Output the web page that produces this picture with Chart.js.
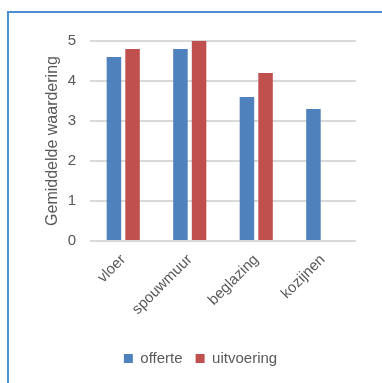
<!DOCTYPE html>
<html>
<head>
<meta charset="utf-8">
<script src="https://cdn.jsdelivr.net/npm/chart.js@4"></script>
<style>
  html, body { margin: 0; padding: 0; background: #fff; }
  #wrap { position: relative; width: 382px; height: 383px; overflow: hidden; }
  #frame { position: absolute; left: 7px; top: 11px; width: 400px; height: 400px;
           border-left: 2px solid #4a8fd0; border-top: 2px solid #4a8fd0; }
  #c { position: absolute; left: 0; top: 0; }
</style>
</head>
<body>
<div id="wrap">
  <div id="frame"></div>
  <canvas id="c" width="382" height="383"></canvas>
</div>
<script>
// data ####################################################
var categories = ['vloer', 'spouwmuur', 'beglazing', 'kozijnen'];
var offerte = [4.6, 4.8, 3.6, 3.3];
var uitvoering = [4.8, 5.0, 4.2, null];
var yTicks = [0, 1, 2, 3, 4, 5];

var grey = '#595959';
Chart.defaults.font.family = '"Liberation Sans", Arial, sans-serif';
Chart.defaults.color = grey;

var ctx = document.getElementById('c').getContext('2d');
var chart = new Chart(ctx, {
  type: 'bar',
  data: {
    labels: categories,
    datasets: [
      { label: 'offerte', data: offerte, backgroundColor: '#4f81bd' },
      { label: 'uitvoering', data: uitvoering, backgroundColor: '#c0504d' }
    ]
  },
  options: {
    responsive: false,
    animation: false,
    categoryPercentage: 0.56,
    barPercentage: 0.78,
    layout: { padding: { top: 41, right: 26, bottom: 7, left: 45 } },
    plugins: {
      tooltip: { enabled: false },
      legend: {
        position: 'bottom',
        labels: {
          boxWidth: 9,
          boxHeight: 9,
          color: grey,
          font: { size: 15 },
          padding: 13
        }
      }
    },
    scales: {
      x: {
        grid: { display: false },
        border: { display: false },
        ticks: { minRotation: 45, maxRotation: 45, padding: 2, font: { size: 15 }, color: grey },
        afterFit: function(scale) { scale.height = 97; }
      },
      y: {
        min: 0,
        max: 5,
        afterBuildTicks: function(scale) {
          scale.ticks = yTicks.map(function(v) { return { value: v }; });
        },
        grid: { color: '#d9d9d9', lineWidth: 2, drawTicks: false },
        border: { display: false },
        ticks: { padding: 14, font: { size: 15 }, color: grey },
        title: {
          display: true,
          text: 'Gemiddelde waardering',
          color: grey,
          font: { size: 16, lineHeight: 1.0 },
          padding: { top: 0, bottom: 0 }
        },
        afterFit: function(scale) { scale.width = 45; }
      }
    }
  }
});
</script>
</body>
</html>
